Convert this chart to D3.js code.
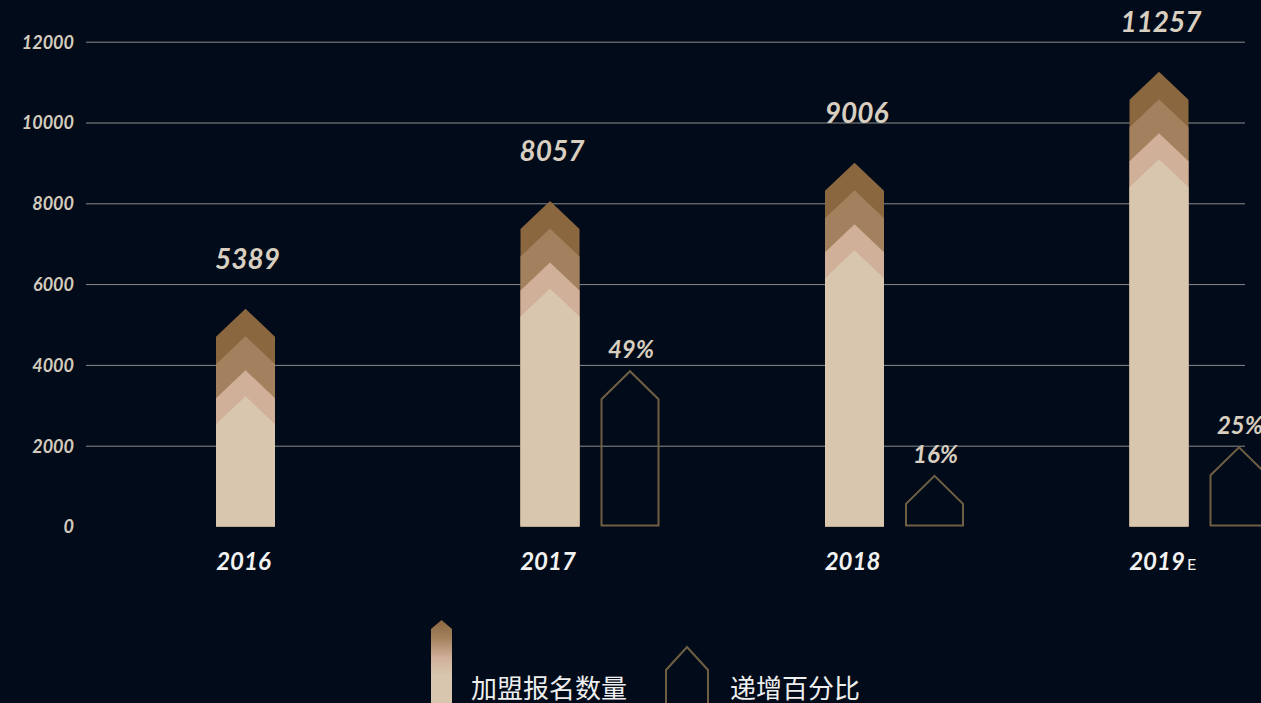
<!DOCTYPE html>
<html>
<head>
<meta charset="utf-8">
<script src="https://cdn.jsdelivr.net/npm/d3@7"></script>
<style>
    html, body {
        margin: 0;
        padding: 0;
        background: #020b19;
        overflow: hidden;
    }
    #chart-area {
        width: 1261px;
        height: 703px;
    }
    .num-label {
        font-family: Lato, "Open Sans", sans-serif;
        font-style: italic;
        font-weight: bold;
    }
</style>
</head>
<body>
<div id="chart-area"></div>
<script>

// data
let years = ["2016", "2017", "2018", "2019"];
let yearSuffix = ["", "", "", "E"];
let signups = [5389, 8057, 9006, 11257];
let growthPct = [null, 49, 16, 25];
let yTicks = [0, 2000, 4000, 6000, 8000, 10000, 12000];
let legendNames = ["加盟报名数量", "递增百分比"];

// colours of the stacked chevron bands (top -> body)
let bandColors = ["#8a673f", "#a3815f", "#d1b09a", "#d8c6ae"];


class HouseBarChart {

    constructor(parentElement) {
        this.parentElement = parentElement;
        this.initVis();
    }

    initVis() {
        let vis = this;

        vis.width = 1261;
        vis.height = 703;

        vis.svg = d3.select("#" + vis.parentElement).append("svg")
            .attr("width", vis.width)
            .attr("height", vis.height);

        // scales
        vis.y = d3.scaleLinear()
            .domain([0, 12000])
            .range([526.5, 41.7]);

        // percentages share the same baseline, just a different unit
        vis.y2 = d3.scaleLinear()
            .domain([0, 153])
            .range([526.5, 41.7]);

        vis.x = d3.scalePoint()
            .domain(years)
            .range([245.5, 1159]);

        vis.barWidth = 59;
        vis.roof = 28;
        vis.outlineShift = 80;

        // legend gradient
        let grad = vis.svg.append("defs").append("linearGradient")
            .attr("id", "legendGrad")
            .attr("x1", 0).attr("y1", 0).attr("x2", 0).attr("y2", 1);
        grad.append("stop").attr("offset", "0%").attr("stop-color", "#8a673f");
        grad.append("stop").attr("offset", "18%").attr("stop-color", "#a3815f");
        grad.append("stop").attr("offset", "38%").attr("stop-color", "#d1b09a");
        grad.append("stop").attr("offset", "55%").attr("stop-color", "#d8c6ae");
        grad.append("stop").attr("offset", "100%").attr("stop-color", "#d8c6ae");

        vis.updateVis();
    }

    housePath(cx, w, top, roof, bottom) {
        let l = cx - w / 2, r = cx + w / 2;
        return "M" + l + "," + bottom +
            "L" + l + "," + (top + roof) +
            "L" + cx + "," + top +
            "L" + r + "," + (top + roof) +
            "L" + r + "," + bottom + "Z";
    }

    updateVis() {
        let vis = this;

        // gridlines + y labels
        let yAxis = d3.axisLeft(vis.y)
            .tickValues(yTicks)
            .tickFormat(d3.format("d"))
            .tickSize(0)
            .tickPadding(12);

        let yAxisG = vis.svg.append("g")
            .attr("class", "y-axis")
            .attr("transform", "translate(86,0)")
            .call(yAxis);
        yAxisG.select(".domain").remove();
        yAxisG.selectAll("text")
            .attr("class", "num-label")
            .attr("font-size", 18)
            .attr("font-weight", 600)
            .attr("fill", "#d3cbbd")
            .attr("dy", "0.35em");

        vis.svg.append("g")
            .attr("class", "grid")
            .selectAll("line")
            .data(yTicks.filter(d => d > 0))
            .enter().append("line")
            .attr("x1", 86)
            .attr("x2", 1245)
            .attr("y1", d => vis.y(d) + 0.5)
            .attr("y2", d => vis.y(d) + 0.5)
            .attr("stroke", "#8c8c8c")
            .attr("stroke-width", 1);

        let rows = years.map((d, i) => ({
            year: d, suffix: yearSuffix[i], value: signups[i], pct: growthPct[i]
        }));

        // stacked chevron bars; each band starts a bit lower than the previous one
        let bandOffsets = [0, 27.5, 61.5, 87.5];
        let bars = vis.svg.append("g").attr("class", "bars");
        rows.forEach(function (d) {
            let top = vis.y(d.value);
            bandOffsets.forEach(function (off, k) {
                bars.append("path")
                    .attr("d", vis.housePath(vis.x(d.year), vis.barWidth, top + off, vis.roof, vis.y(0)))
                    .attr("fill", bandColors[k]);
            });
        });

        // value labels
        vis.svg.append("g")
            .selectAll("text")
            .data(rows)
            .enter().append("text")
            .attr("class", "num-label")
            .attr("x", d => vis.x(d.year) + 2)
            .attr("y", d => vis.y(d.value) - 40)
            .attr("text-anchor", "middle")
            .attr("font-size", 28)
            .attr("fill", "#d8cfc0")
            .text(d => d.value);

        // growth outlines
        let pctRows = rows.filter(d => d.pct != null);
        vis.svg.append("g")
            .selectAll("path")
            .data(pctRows)
            .enter().append("path")
            .attr("d", d => vis.housePath(vis.x(d.year) + vis.outlineShift, vis.barWidth - 2,
                vis.y2(d.pct), vis.roof, vis.y2(0) - 1))
            .attr("fill", "none")
            .attr("stroke", "#6f5f43")
            .attr("stroke-width", 2);

        vis.svg.append("g")
            .selectAll("text")
            .data(pctRows)
            .enter().append("text")
            .attr("class", "num-label")
            .attr("x", d => vis.x(d.year) + vis.outlineShift + 1)
            .attr("y", d => vis.y2(d.pct) - 13)
            .attr("text-anchor", "middle")
            .attr("font-size", 24)
            .attr("fill", "#d8cfc0")
            .text(d => d.pct + "%");

        // year labels
        let yearG = vis.svg.append("g").attr("class", "x-labels");
        yearG.selectAll("text.year")
            .data(rows)
            .enter().append("text")
            .attr("class", "num-label year")
            .attr("x", d => vis.x(d.year) - 2)
            .attr("y", 570)
            .attr("text-anchor", "middle")
            .attr("font-size", 24)
            .attr("fill", "#f2f2f2")
            .text(d => d.year);
        yearG.selectAll("text.suffix")
            .data(rows.filter(d => d.suffix))
            .enter().append("text")
            .attr("class", "suffix")
            .attr("x", d => vis.x(d.year) + 28)
            .attr("y", 570)
            .attr("font-family", "Lato, sans-serif")
            .attr("font-size", 16)
            .attr("fill", "#f2f2f2")
            .text(d => d.suffix);

        // legend
        let legend = vis.svg.append("g").attr("class", "legend");
        legend.append("path")
            .attr("d", vis.housePath(441.5, 21, 620, 9, 720))
            .attr("fill", "url(#legendGrad)");
        legend.append("text")
            .attr("x", 471)
            .attr("y", 698)
            .attr("font-family", "'Noto Sans CJK SC', sans-serif")
            .attr("font-size", 26)
            .attr("fill", "#eeeeee")
            .text(legendNames[0]);

        legend.append("path")
            .attr("d", vis.housePath(687, 42, 647, 23, 720))
            .attr("fill", "none")
            .attr("stroke", "#6f5f43")
            .attr("stroke-width", 2);
        legend.append("text")
            .attr("x", 730)
            .attr("y", 698)
            .attr("font-family", "'Noto Sans CJK SC', sans-serif")
            .attr("font-size", 26)
            .attr("fill", "#eeeeee")
            .text(legendNames[1]);
    }
}

new HouseBarChart("chart-area");

</script>
</body>
</html>
